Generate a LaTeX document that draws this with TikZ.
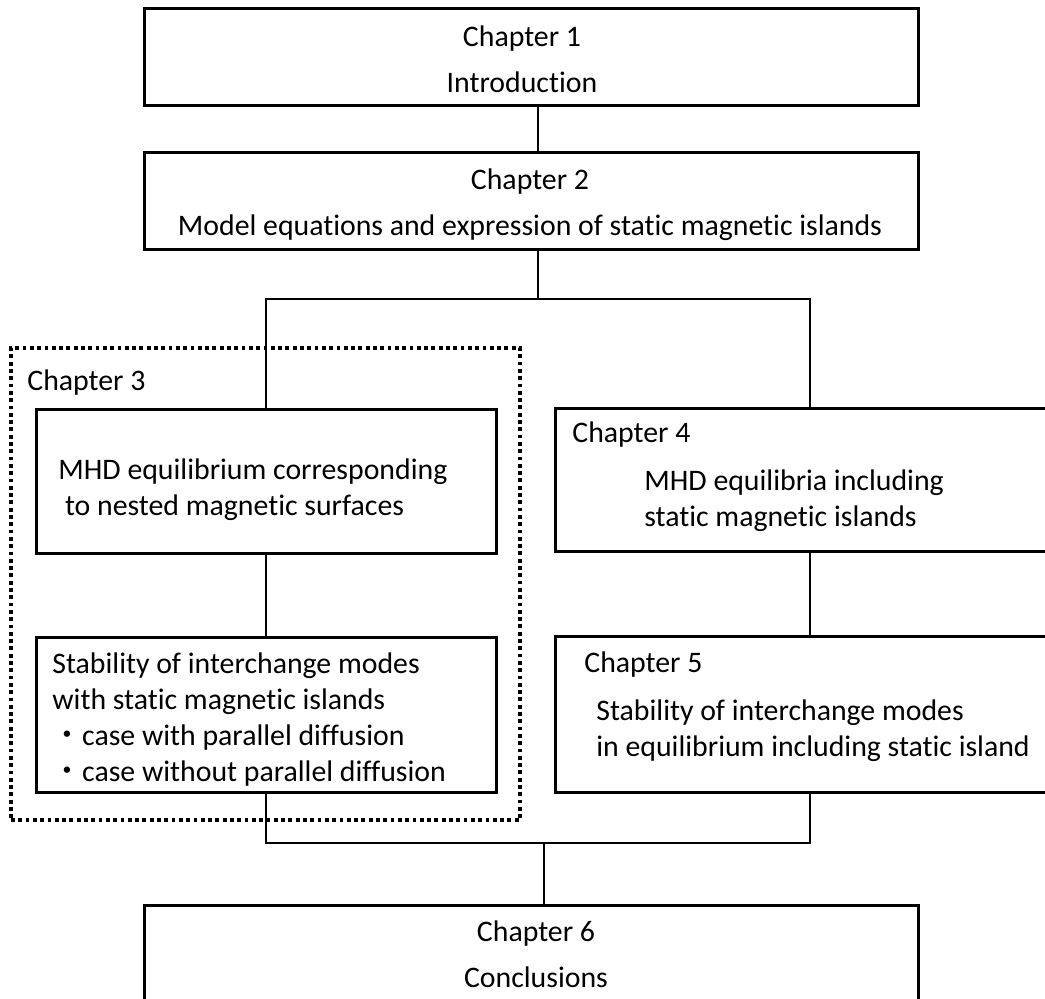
\documentclass[tikz,border=0pt]{standalone}
\usepackage{fontspec}
\setmainfont{Carlito}[Ligatures=NoCommon]
\newfontfamily\jpfont{Noto Sans CJK JP}
\usetikzlibrary{calc}
\tikzset{chbox/.style={draw=black, line width=1.5pt, inner sep=0pt, outer sep=0pt}}
\tikzset{grpbox/.style={draw=black, line width=1.8pt, dash pattern=on 1.9pt off 1.75pt, inner sep=0pt}}
\tikzset{ctxt/.style={align=center, inner sep=0pt, font=\fontsize{14.9pt}{23pt}\selectfont}}
\tikzset{ltxt/.style={align=left, anchor=west, inner sep=0pt, font=\fontsize{14.9pt}{18pt}\selectfont}}
\tikzset{link/.style={line width=1pt}}
\begin{document}
\begin{tikzpicture}[x=0.5pt, y=-0.5pt]
\clip (0,0) rectangle (1045,999);
\fill[white] (0,0) rectangle (1045,999);
% chapter boxes
\node (b1) at (531,57.5) [chbox, minimum width=387pt, minimum height=48.5pt] {};
\node (b2) at (531,201.5) [chbox, minimum width=387pt, minimum height=48.5pt] {};
\node (grp3) at (265.5,584) [grpbox, minimum width=254.5pt, minimum height=236pt] {};
\node (b3a) at (266,482) [chbox, minimum width=230pt, minimum height=72pt] {};
\node (b3b) at (266,715.5) [chbox, minimum width=230pt, minimum height=77.5pt] {};
\node (b4) at (810,480.5) [chbox, minimum width=255pt, minimum height=71.5pt] {};
\node (b5) at (810,715) [chbox, minimum width=255pt, minimum height=78pt] {};
\node (b6) at (531,957.5) [chbox, minimum width=387pt, minimum height=52.5pt] {};
% texts
\node (t1) at (522,59) [ctxt] {Chapter 1\\Introduction};
\node (t2) at (530,204.5) [ctxt] {Chapter 2\\Model equations and expression of static magnetic islands};
\node (t3) at (27,383) [ltxt] {Chapter 3};
\node (t3a) at (58,490) [ltxt] {MHD equilibrium corresponding\\\hspace*{3.3pt}to nested magnetic surfaces};
\node (t3b) at (52,720) [ltxt] {Stability of interchange modes\\with static magnetic islands\\{\jpfont ・}case with parallel diffusion\\{\jpfont ・}case without parallel diffusion};
\node (t4) at (572,435) [ltxt] {Chapter 4};
\node (t4b) at (644,500.5) [ltxt] {MHD equilibria including\\static magnetic islands};
\node (t5) at (584,665) [ltxt] {Chapter 5};
\node (t5b) at (596,730.5) [ltxt] {Stability of interchange modes\\in equilibrium including static island};
\node (t6) at (536,954.5) [ctxt] {Chapter 6\\Conclusions};
% connectors
\coordinate (jt) at (538,299);
\coordinate (jb) at (544,843);
\draw[link] (b1.south -| jt) -- (b2.north -| jt);
\draw[link] (b2.south -| jt) -- (jt);
\draw[link] (b3a.north) |- (jt) -| (b4.north);
\draw[link] (b3a.south) -- (b3b.north);
\draw[link] (b4.south) -- (b5.north);
\draw[link] (b3b.south) |- (jb) -| (b5.south);
\draw[link] (jb) -- (b6.north -| jb);
\end{tikzpicture}
\end{document}
